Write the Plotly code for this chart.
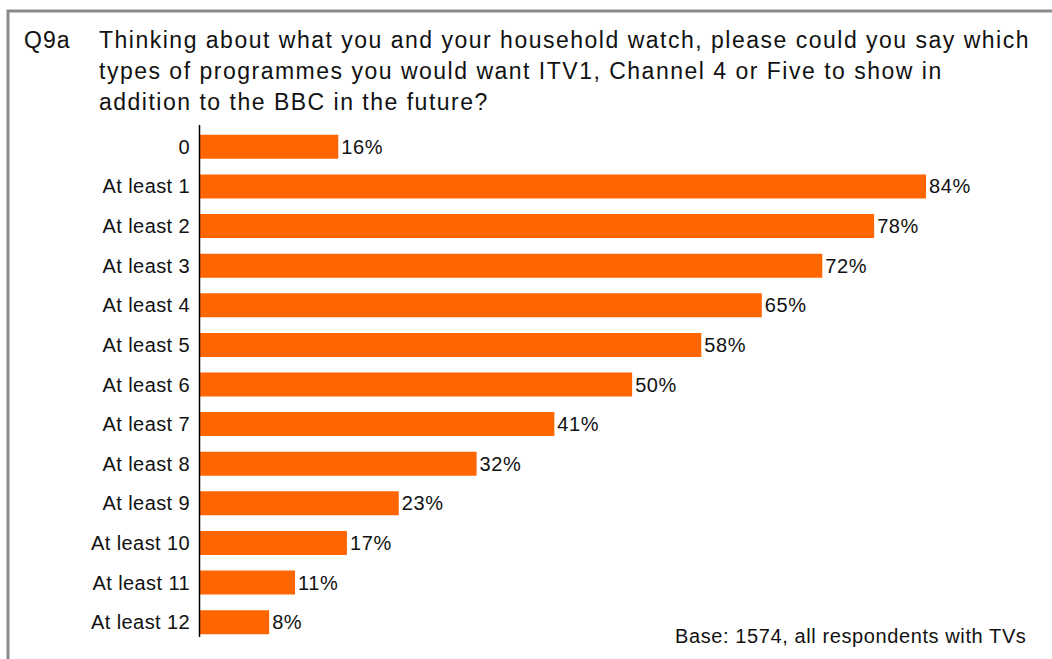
import plotly.graph_objects as go

# Survey answers: number of programme types wanted from other channels
categories = ["0", "At least 1", "At least 2", "At least 3", "At least 4", "At least 5",
              "At least 6", "At least 7", "At least 8", "At least 9", "At least 10",
              "At least 11", "At least 12"]
shares = [16, 84, 78, 72, 65, 58, 50, 41, 32, 23, 17, 11, 8]

question_id = "Q9a"
question_lines = [
    "Thinking about what you and your household watch, please could you say which",
    "types of programmes you would want ITV1, Channel 4 or Five to show in",
    "addition to the BBC in the future?",
]
base_note = "Base: 1574, all respondents with TVs"

W, H = 1052, 659
ML, MR, MT, MB = 200, 72, 127, 17
PW, PH = W - ML - MR, H - MT - MB
FONT = "Liberation Sans, Arial, sans-serif"
INK = "#111111"


def px_x(px):
    return (px - ML) / PW


def px_y(py):
    return (H - MB - py) / PH


def spaced(txt, px):
    # slightly looser tracking, as in the printed report
    return f'<span style="letter-spacing:{px}px">{txt}</span>'


fig = go.Figure(go.Bar(
    x=shares,
    y=categories,
    orientation="h",
    marker=dict(color="#FF6600", line=dict(width=0)),
    text=[spaced(f"{v}%", 0.6) for v in shares],
    textposition="outside",
    textfont=dict(family=FONT, size=20, color=INK),
    cliponaxis=False,
    width=0.606,
))

annotations = [dict(
    x=px_x(22), y=px_y(40), xref="paper", yref="paper", text=spaced(question_id, 1.0),
    showarrow=False, xanchor="left", yanchor="middle",
    font=dict(family=FONT, size=23, color=INK),
)]
for i, line in enumerate(question_lines):
    annotations.append(dict(
        x=px_x(97), y=px_y(40 + i * 31), xref="paper", yref="paper", text=spaced(line, 1.5),
        showarrow=False, xanchor="left", yanchor="middle",
        font=dict(family=FONT, size=23, color=INK),
    ))
annotations.append(dict(
    x=px_x(1028), y=px_y(636), xref="paper", yref="paper", text=spaced(base_note, 0.6),
    showarrow=False, xanchor="right", yanchor="middle",
    font=dict(family=FONT, size=20, color=INK),
))

fig.update_layout(
    width=W, height=H,
    margin=dict(l=ML, r=MR, t=MT, b=MB),
    paper_bgcolor="white", plot_bgcolor="white",
    showlegend=False,
    xaxis=dict(range=[0, PW / 8.643], visible=False, fixedrange=True),
    yaxis=dict(
        autorange="reversed",
        showline=False,
        showgrid=False, zeroline=False, ticks="", ticklabelstandoff=9,
        tickmode="array", tickvals=categories,
        ticktext=[spaced(c, 0.4) for c in categories],
        tickfont=dict(family=FONT, size=20, color=INK),
    ),
    annotations=annotations,
    shapes=[
        # outer frame of the slide
        dict(
            type="rect", xref="paper", yref="paper",
            x0=px_x(8), x1=px_x(1070), y0=px_y(680), y1=px_y(11),
            line=dict(color="#8a8a8a", width=3), fillcolor="rgba(0,0,0,0)",
            layer="below",
        ),
        # category axis line
        dict(
            type="line", xref="paper", yref="paper",
            x0=px_x(199.5), x1=px_x(199.5), y0=px_y(637), y1=px_y(125),
            line=dict(color="#000000", width=1.5),
        ),
    ],
)

fig.write_html("out.html")
